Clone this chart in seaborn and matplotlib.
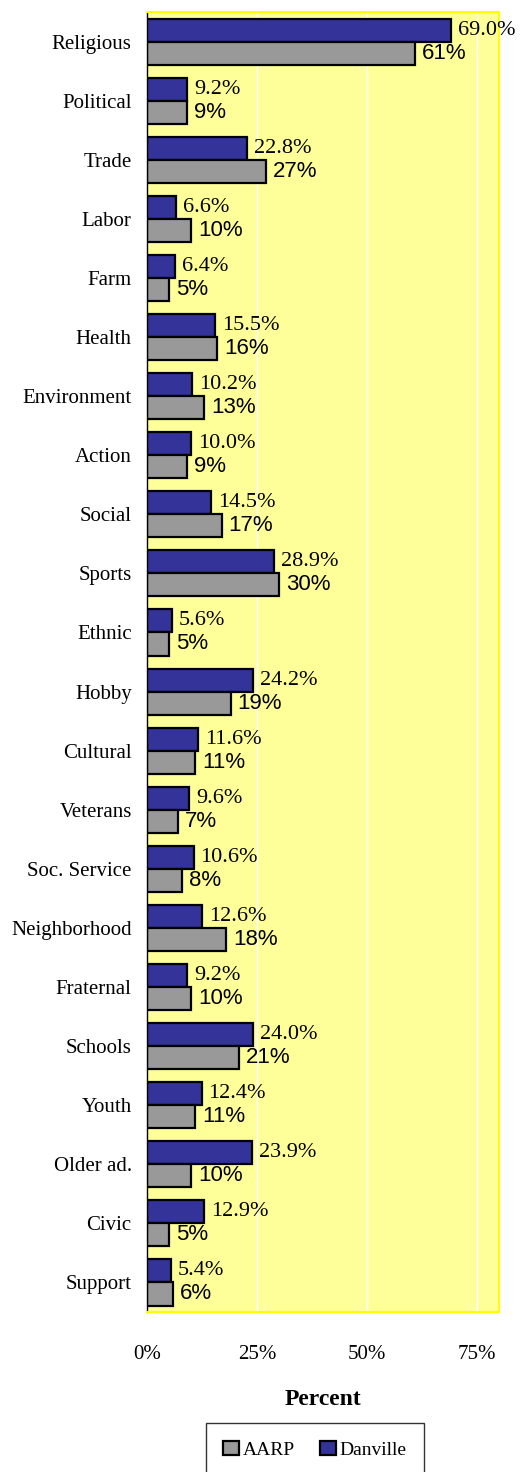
import numpy as np
import pandas as pd
import matplotlib
matplotlib.use("Agg")
import matplotlib.pyplot as plt
from matplotlib.ticker import FixedLocator
import seaborn as sns

categories = ["Religious", "Political", "Trade", "Labor", "Farm", "Health",
              "Environment", "Action", "Social", "Sports", "Ethnic", "Hobby",
              "Cultural", "Veterans", "Soc. Service", "Neighborhood", "Fraternal",
              "Schools", "Youth", "Older ad.", "Civic", "Support"]
danville = [69.0, 9.2, 22.8, 6.6, 6.4, 15.5, 10.2, 10.0, 14.5, 28.9, 5.6, 24.2,
            11.6, 9.6, 10.6, 12.6, 9.2, 24.0, 12.4, 23.9, 12.9, 5.4]
aarp = [61, 9, 27, 10, 5, 16, 13, 9, 17, 30, 5, 19, 11, 7, 8, 18, 10, 21, 11, 10, 5, 6]
xticks = [0, 25, 50, 75]
xtick_labels = ["0%", "25%", "50%", "75%"]

df = pd.DataFrame({
    "Category": categories * 2,
    "Percent": danville + aarp,
    "Group": ["Danville"] * len(categories) + ["AARP"] * len(categories),
})

sns.set_style("white")
plt.rcParams["font.family"] = ["Liberation Serif", "DejaVu Serif"]
plt.rcParams["text.color"] = "black"
plt.rcParams["axes.labelcolor"] = "black"
plt.rcParams["xtick.color"] = "black"
plt.rcParams["ytick.color"] = "black"

fig = plt.figure(figsize=(5.24, 14.72), dpi=100)
ax = fig.add_axes([147 / 524, 1 - 1312 / 1472, 352 / 524, 1300 / 1472])
ax.set_facecolor("#FFFF99")

sns.barplot(data=df, x="Percent", y="Category", hue="Group", orient="h",
            order=categories, hue_order=["Danville", "AARP"],
            palette={"Danville": "#333399", "AARP": "#999999"},
            width=0.78, edgecolor="black", linewidth=1.6, gap=0,
            saturation=1, ax=ax)

ax.set_xlim(0, 80)
ax.set_ylim(len(categories) - 0.5, -0.5)
ax.set_xticks(xticks)
ax.set_xticklabels(xtick_labels, fontsize=15)
for x in xticks[1:]:
    ax.axvline(x, color="white", lw=1, zorder=0.5)

ax.tick_params(axis="x", direction="out", length=4, width=1, color="black", pad=20)
ax.tick_params(axis="y", which="major", length=0, pad=11, labelsize=15)
ax.yaxis.set_minor_locator(FixedLocator(np.arange(-0.5, len(categories), 1)))
ax.tick_params(axis="y", which="minor", direction="out", length=4, width=1, color="black")

for side in ["top", "right", "bottom"]:
    ax.spines[side].set_color("#FFFF00")
    ax.spines[side].set_linewidth(1.5)
ax.spines["left"].set_color("black")
ax.spines["left"].set_linewidth(1)

ax.set_ylabel("")
ax.set_xlabel("Percent", fontsize=17, fontweight="bold", labelpad=18, color="black")

# value labels
cont_dan, cont_aarp = ax.containers[0], ax.containers[1]
ax.bar_label(cont_dan, labels=[f"{v:.1f}%" for v in danville], padding=5,
             fontsize=16, family=["Liberation Serif"], color="black")
ax.bar_label(cont_aarp, labels=[f"{v:.0f}%" for v in aarp], padding=5,
             fontsize=16, family=["Liberation Sans"], color="black")

handles, labels = ax.get_legend_handles_labels()
ax.get_legend().remove()
order = [labels.index("AARP"), labels.index("Danville")]
leg = fig.legend([handles[i] for i in order], [labels[i] for i in order],
                 loc="upper center", bbox_to_anchor=(0.601, 1 - 1423 / 1472),
                 ncol=2, fontsize=14, frameon=True, fancybox=False,
                 edgecolor="black", handlelength=0.8, handleheight=0.8,
                 handletextpad=0.2, columnspacing=1.3, borderpad=0.9,
                 borderaxespad=0)
leg.get_frame().set_linewidth(1)

fig.savefig("out.png", dpi=100)
